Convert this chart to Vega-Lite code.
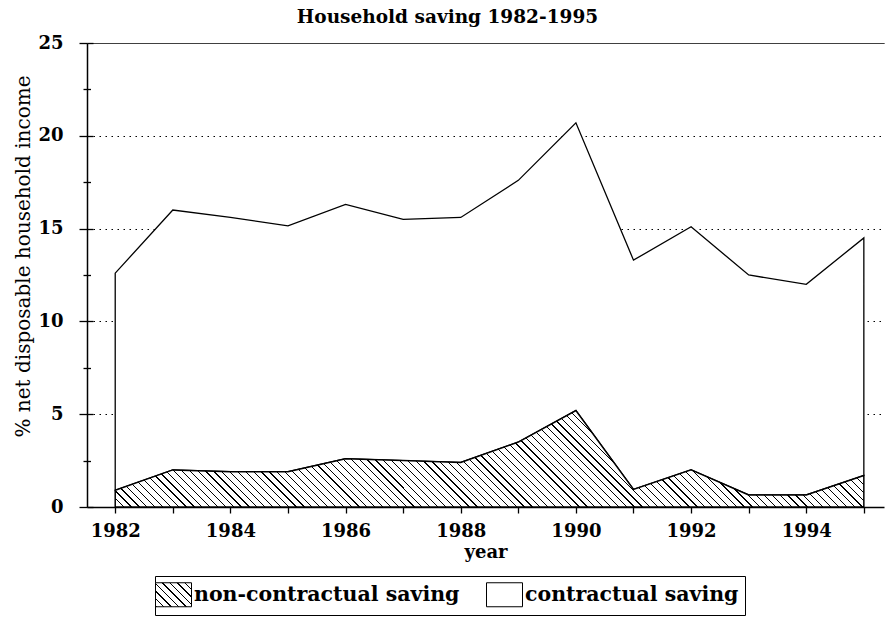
{
  "$schema": "https://vega.github.io/schema/vega-lite/v6.json",
  "width": 797,
  "height": 464,
  "autosize": "none",
  "padding": {"left": 87, "top": 43, "right": 1, "bottom": 115},
  "title": {"text": "Household saving 1982-1995", "font": "DejaVu Serif", "fontSize": 18.5, "fontWeight": "bold", "color": "black", "anchor": "middle", "frame": "group", "dx": -38, "offset": 8},
  "config": {
    "view": {"stroke": null},
    "font": "DejaVu Serif",
    "axis": {"labelFont": "DejaVu Serif", "titleFont": "DejaVu Serif", "labelColor": "black", "titleColor": "black", "domainColor": "black", "tickColor": "black", "domainWidth": 1.5, "tickWidth": 1.3}
  },
  "resolve": {"scale": {"y": "shared"}, "axis": {"y": "independent"}},
  "data": {"values": [
    {"year": 1982, "non_contractual": 0.9, "total": 12.6},
    {"year": 1983, "non_contractual": 2.0, "total": 16.0},
    {"year": 1984, "non_contractual": 1.9, "total": 15.6},
    {"year": 1985, "non_contractual": 1.9, "total": 15.15},
    {"year": 1986, "non_contractual": 2.6, "total": 16.3},
    {"year": 1987, "non_contractual": 2.5, "total": 15.5},
    {"year": 1988, "non_contractual": 2.4, "total": 15.6},
    {"year": 1989, "non_contractual": 3.5, "total": 17.6},
    {"year": 1990, "non_contractual": 5.2, "total": 20.7},
    {"year": 1991, "non_contractual": 0.95, "total": 13.3},
    {"year": 1992, "non_contractual": 2.0, "total": 15.1},
    {"year": 1993, "non_contractual": 0.65, "total": 12.5},
    {"year": 1994, "non_contractual": 0.65, "total": 12.0},
    {"year": 1995, "non_contractual": 1.7, "total": 14.5}
  ]},
  "encoding": {
    "x": {"field": "year", "type": "quantitative",
      "scale": {"domain": [1981.51, 1995.35], "nice": false, "zero": false},
      "axis": {"title": "year", "values": [1982,1983,1984,1985,1986,1987,1988,1989,1990,1991,1992,1993,1994,1995], "format": "d",
        "labelExpr": "datum.value % 2 == 0 ? datum.label : ''", "tickSize": 6, "labelPadding": 9,
        "labelFontSize": 18, "labelFontWeight": "bold", "titleFontSize": 18, "titleFontWeight": "bold",
        "titleY": 50, "titleBaseline": "alphabetic", "grid": false, "labelFlush": false, "labelOverlap": false}
    }
  },
  "layer": [
    {
      "mark": {"type": "area", "strokeWidth": 1.3, "clip": false,
        "fill": {"expr": "datum.value === 'non-contractual saving' ? {gradient: 'linear', x1: 0, y1: 1, x2: 1.1538, y2: 0.2308, stops: [{offset: 0, color: '#000'}, {offset: 0.023, color: '#000'}, {offset: 0.023, color: '#fff'}, {offset: 0.125, color: '#fff'}, {offset: 0.125, color: '#000'}, {offset: 0.148, color: '#000'}, {offset: 0.148, color: '#fff'}, {offset: 0.25, color: '#fff'}, {offset: 0.25, color: '#000'}, {offset: 0.273, color: '#000'}, {offset: 0.273, color: '#fff'}, {offset: 0.375, color: '#fff'}, {offset: 0.375, color: '#000'}, {offset: 0.398, color: '#000'}, {offset: 0.398, color: '#fff'}, {offset: 0.5, color: '#fff'}, {offset: 0.5, color: '#000'}, {offset: 0.523, color: '#000'}, {offset: 0.523, color: '#fff'}, {offset: 0.625, color: '#fff'}, {offset: 0.625, color: '#000'}, {offset: 0.648, color: '#000'}, {offset: 0.648, color: '#fff'}, {offset: 0.75, color: '#fff'}, {offset: 0.75, color: '#000'}, {offset: 0.773, color: '#000'}, {offset: 0.773, color: '#fff'}, {offset: 0.875, color: '#fff'}, {offset: 0.875, color: '#000'}, {offset: 0.898, color: '#000'}, {offset: 0.898, color: '#fff'}, {offset: 1, color: '#fff'}]} : 'white'"}},
      "encoding": {
        "y": {"field": "non_contractual", "type": "quantitative",
          "scale": {"domain": [0, 25], "nice": false, "zero": true},
          "axis": {"title": "% net disposable household income", "orient": "left",
            "values": [0, 2.5, 5, 7.5, 10, 12.5, 15, 17.5, 20, 22.5, 25],
            "labelExpr": "datum.value % 5 == 0 ? datum.label : ''",
            "tickSize": {"condition": {"test": "datum.value % 5 == 0", "value": 8}, "value": 4},
            "labelPadding": 16, "labelFontSize": 18, "labelFontWeight": "bold",
            "grid": true, "gridColor": "black", "gridWidth": 1,
            "gridDash": {"condition": {"test": "datum.value == 25", "value": [1, 0]}, "value": [1.5, 4.5]},
            "gridOpacity": {"condition": {"test": "datum.value % 5 == 0 && datum.value > 0", "value": 1}, "value": 0},
            "titleFontSize": 20, "titleFontWeight": "normal", "titleX": -64, "titleY": 213, "titleBaseline": "middle", "titleAlign": "center", "titleAngle": 270}
        },
        "y2": {"field": "total"},
        "stroke": {"datum": "contractual saving", "type": "nominal",
          "scale": {"domain": ["non-contractual saving", "contractual saving"], "range": ["black", "black"]},
          "legend": {"title": null, "orient": "none", "legendX": 68, "legendY": 533, "direction": "horizontal",
            "symbolType": "M-1.5,-1L1.5,-1L1.5,1L-1.5,1Z", "symbolSize": 576, "symbolStrokeColor": "black", "symbolStrokeWidth": 1,
            "labelFont": "DejaVu Serif", "labelFontWeight": "bold", "labelFontSize": 20.5, "labelColor": "black", "labelOffset": 8, "labelLimit": 400,
            "columnPadding": 24, "padding": 6, "strokeColor": "black",
            "encode": {"symbols": {
              "fill": {"value": {"expr": "datum.value === 'non-contractual saving' ? {gradient: 'linear', x1: 0, y1: 1, x2: 1.1538, y2: 0.2308, stops: [{offset: 0, color: '#000'}, {offset: 0.023, color: '#000'}, {offset: 0.023, color: '#fff'}, {offset: 0.125, color: '#fff'}, {offset: 0.125, color: '#000'}, {offset: 0.148, color: '#000'}, {offset: 0.148, color: '#fff'}, {offset: 0.25, color: '#fff'}, {offset: 0.25, color: '#000'}, {offset: 0.273, color: '#000'}, {offset: 0.273, color: '#fff'}, {offset: 0.375, color: '#fff'}, {offset: 0.375, color: '#000'}, {offset: 0.398, color: '#000'}, {offset: 0.398, color: '#fff'}, {offset: 0.5, color: '#fff'}, {offset: 0.5, color: '#000'}, {offset: 0.523, color: '#000'}, {offset: 0.523, color: '#fff'}, {offset: 0.625, color: '#fff'}, {offset: 0.625, color: '#000'}, {offset: 0.648, color: '#000'}, {offset: 0.648, color: '#fff'}, {offset: 0.75, color: '#fff'}, {offset: 0.75, color: '#000'}, {offset: 0.773, color: '#000'}, {offset: 0.773, color: '#fff'}, {offset: 0.875, color: '#fff'}, {offset: 0.875, color: '#000'}, {offset: 0.898, color: '#000'}, {offset: 0.898, color: '#fff'}, {offset: 1, color: '#fff'}]} : 'white'"}}
            }}
          }
        }
      }
    },
    {
      "mark": {"type": "area", "strokeWidth": 1.5, "clip": false,
        "fill": {"gradient": "linear", "x1": 0, "y1": 1, "x2": 1.0327, "y2": 0.8669, "stops": [
{"offset":0,"color":"#000"},{"offset":0.0016,"color":"#000"},{"offset":0.0016,"color":"#fff"},{"offset":0.01,"color":"#fff"},
{"offset":0.01,"color":"#000"},{"offset":0.0116,"color":"#000"},{"offset":0.0116,"color":"#fff"},{"offset":0.02,"color":"#fff"},
{"offset":0.02,"color":"#000"},{"offset":0.0216,"color":"#000"},{"offset":0.0216,"color":"#fff"},{"offset":0.03,"color":"#fff"},
{"offset":0.03,"color":"#000"},{"offset":0.0316,"color":"#000"},{"offset":0.0316,"color":"#fff"},{"offset":0.04,"color":"#fff"},
{"offset":0.04,"color":"#000"},{"offset":0.0416,"color":"#000"},{"offset":0.0416,"color":"#fff"},{"offset":0.05,"color":"#fff"},
{"offset":0.05,"color":"#000"},{"offset":0.0516,"color":"#000"},{"offset":0.0516,"color":"#fff"},{"offset":0.06,"color":"#fff"},
{"offset":0.06,"color":"#000"},{"offset":0.0616,"color":"#000"},{"offset":0.0616,"color":"#fff"},{"offset":0.07,"color":"#fff"},
{"offset":0.07,"color":"#000"},{"offset":0.0716,"color":"#000"},{"offset":0.0716,"color":"#fff"},{"offset":0.08,"color":"#fff"},
{"offset":0.08,"color":"#000"},{"offset":0.0816,"color":"#000"},{"offset":0.0816,"color":"#fff"},{"offset":0.09,"color":"#fff"},
{"offset":0.09,"color":"#000"},{"offset":0.0916,"color":"#000"},{"offset":0.0916,"color":"#fff"},{"offset":0.1,"color":"#fff"},
{"offset":0.1,"color":"#000"},{"offset":0.1016,"color":"#000"},{"offset":0.1016,"color":"#fff"},{"offset":0.11,"color":"#fff"},
{"offset":0.11,"color":"#000"},{"offset":0.1116,"color":"#000"},{"offset":0.1116,"color":"#fff"},{"offset":0.12,"color":"#fff"},
{"offset":0.12,"color":"#000"},{"offset":0.1216,"color":"#000"},{"offset":0.1216,"color":"#fff"},{"offset":0.13,"color":"#fff"},
{"offset":0.13,"color":"#000"},{"offset":0.1316,"color":"#000"},{"offset":0.1316,"color":"#fff"},{"offset":0.14,"color":"#fff"},
{"offset":0.14,"color":"#000"},{"offset":0.1416,"color":"#000"},{"offset":0.1416,"color":"#fff"},{"offset":0.15,"color":"#fff"},
{"offset":0.15,"color":"#000"},{"offset":0.1516,"color":"#000"},{"offset":0.1516,"color":"#fff"},{"offset":0.16,"color":"#fff"},
{"offset":0.16,"color":"#000"},{"offset":0.1616,"color":"#000"},{"offset":0.1616,"color":"#fff"},{"offset":0.17,"color":"#fff"},
{"offset":0.17,"color":"#000"},{"offset":0.1716,"color":"#000"},{"offset":0.1716,"color":"#fff"},{"offset":0.18,"color":"#fff"},
{"offset":0.18,"color":"#000"},{"offset":0.1816,"color":"#000"},{"offset":0.1816,"color":"#fff"},{"offset":0.19,"color":"#fff"},
{"offset":0.19,"color":"#000"},{"offset":0.1916,"color":"#000"},{"offset":0.1916,"color":"#fff"},{"offset":0.2,"color":"#fff"},
{"offset":0.2,"color":"#000"},{"offset":0.2016,"color":"#000"},{"offset":0.2016,"color":"#fff"},{"offset":0.21,"color":"#fff"},
{"offset":0.21,"color":"#000"},{"offset":0.2116,"color":"#000"},{"offset":0.2116,"color":"#fff"},{"offset":0.22,"color":"#fff"},
{"offset":0.22,"color":"#000"},{"offset":0.2216,"color":"#000"},{"offset":0.2216,"color":"#fff"},{"offset":0.23,"color":"#fff"},
{"offset":0.23,"color":"#000"},{"offset":0.2316,"color":"#000"},{"offset":0.2316,"color":"#fff"},{"offset":0.24,"color":"#fff"},
{"offset":0.24,"color":"#000"},{"offset":0.2416,"color":"#000"},{"offset":0.2416,"color":"#fff"},{"offset":0.25,"color":"#fff"},
{"offset":0.25,"color":"#000"},{"offset":0.2516,"color":"#000"},{"offset":0.2516,"color":"#fff"},{"offset":0.26,"color":"#fff"},
{"offset":0.26,"color":"#000"},{"offset":0.2616,"color":"#000"},{"offset":0.2616,"color":"#fff"},{"offset":0.27,"color":"#fff"},
{"offset":0.27,"color":"#000"},{"offset":0.2716,"color":"#000"},{"offset":0.2716,"color":"#fff"},{"offset":0.28,"color":"#fff"},
{"offset":0.28,"color":"#000"},{"offset":0.2816,"color":"#000"},{"offset":0.2816,"color":"#fff"},{"offset":0.29,"color":"#fff"},
{"offset":0.29,"color":"#000"},{"offset":0.2916,"color":"#000"},{"offset":0.2916,"color":"#fff"},{"offset":0.3,"color":"#fff"},
{"offset":0.3,"color":"#000"},{"offset":0.3016,"color":"#000"},{"offset":0.3016,"color":"#fff"},{"offset":0.31,"color":"#fff"},
{"offset":0.31,"color":"#000"},{"offset":0.3116,"color":"#000"},{"offset":0.3116,"color":"#fff"},{"offset":0.32,"color":"#fff"},
{"offset":0.32,"color":"#000"},{"offset":0.3216,"color":"#000"},{"offset":0.3216,"color":"#fff"},{"offset":0.33,"color":"#fff"},
{"offset":0.33,"color":"#000"},{"offset":0.3316,"color":"#000"},{"offset":0.3316,"color":"#fff"},{"offset":0.34,"color":"#fff"},
{"offset":0.34,"color":"#000"},{"offset":0.3416,"color":"#000"},{"offset":0.3416,"color":"#fff"},{"offset":0.35,"color":"#fff"},
{"offset":0.35,"color":"#000"},{"offset":0.3516,"color":"#000"},{"offset":0.3516,"color":"#fff"},{"offset":0.36,"color":"#fff"},
{"offset":0.36,"color":"#000"},{"offset":0.3616,"color":"#000"},{"offset":0.3616,"color":"#fff"},{"offset":0.37,"color":"#fff"},
{"offset":0.37,"color":"#000"},{"offset":0.3716,"color":"#000"},{"offset":0.3716,"color":"#fff"},{"offset":0.38,"color":"#fff"},
{"offset":0.38,"color":"#000"},{"offset":0.3816,"color":"#000"},{"offset":0.3816,"color":"#fff"},{"offset":0.39,"color":"#fff"},
{"offset":0.39,"color":"#000"},{"offset":0.3916,"color":"#000"},{"offset":0.3916,"color":"#fff"},{"offset":0.4,"color":"#fff"},
{"offset":0.4,"color":"#000"},{"offset":0.4016,"color":"#000"},{"offset":0.4016,"color":"#fff"},{"offset":0.41,"color":"#fff"},
{"offset":0.41,"color":"#000"},{"offset":0.4116,"color":"#000"},{"offset":0.4116,"color":"#fff"},{"offset":0.42,"color":"#fff"},
{"offset":0.42,"color":"#000"},{"offset":0.4216,"color":"#000"},{"offset":0.4216,"color":"#fff"},{"offset":0.43,"color":"#fff"},
{"offset":0.43,"color":"#000"},{"offset":0.4316,"color":"#000"},{"offset":0.4316,"color":"#fff"},{"offset":0.44,"color":"#fff"},
{"offset":0.44,"color":"#000"},{"offset":0.4416,"color":"#000"},{"offset":0.4416,"color":"#fff"},{"offset":0.45,"color":"#fff"},
{"offset":0.45,"color":"#000"},{"offset":0.4516,"color":"#000"},{"offset":0.4516,"color":"#fff"},{"offset":0.46,"color":"#fff"},
{"offset":0.46,"color":"#000"},{"offset":0.4616,"color":"#000"},{"offset":0.4616,"color":"#fff"},{"offset":0.47,"color":"#fff"},
{"offset":0.47,"color":"#000"},{"offset":0.4716,"color":"#000"},{"offset":0.4716,"color":"#fff"},{"offset":0.48,"color":"#fff"},
{"offset":0.48,"color":"#000"},{"offset":0.4816,"color":"#000"},{"offset":0.4816,"color":"#fff"},{"offset":0.49,"color":"#fff"},
{"offset":0.49,"color":"#000"},{"offset":0.4916,"color":"#000"},{"offset":0.4916,"color":"#fff"},{"offset":0.5,"color":"#fff"},
{"offset":0.5,"color":"#000"},{"offset":0.5016,"color":"#000"},{"offset":0.5016,"color":"#fff"},{"offset":0.51,"color":"#fff"},
{"offset":0.51,"color":"#000"},{"offset":0.5116,"color":"#000"},{"offset":0.5116,"color":"#fff"},{"offset":0.52,"color":"#fff"},
{"offset":0.52,"color":"#000"},{"offset":0.5216,"color":"#000"},{"offset":0.5216,"color":"#fff"},{"offset":0.53,"color":"#fff"},
{"offset":0.53,"color":"#000"},{"offset":0.5316,"color":"#000"},{"offset":0.5316,"color":"#fff"},{"offset":0.54,"color":"#fff"},
{"offset":0.54,"color":"#000"},{"offset":0.5416,"color":"#000"},{"offset":0.5416,"color":"#fff"},{"offset":0.55,"color":"#fff"},
{"offset":0.55,"color":"#000"},{"offset":0.5516,"color":"#000"},{"offset":0.5516,"color":"#fff"},{"offset":0.56,"color":"#fff"},
{"offset":0.56,"color":"#000"},{"offset":0.5616,"color":"#000"},{"offset":0.5616,"color":"#fff"},{"offset":0.57,"color":"#fff"},
{"offset":0.57,"color":"#000"},{"offset":0.5716,"color":"#000"},{"offset":0.5716,"color":"#fff"},{"offset":0.58,"color":"#fff"},
{"offset":0.58,"color":"#000"},{"offset":0.5816,"color":"#000"},{"offset":0.5816,"color":"#fff"},{"offset":0.59,"color":"#fff"},
{"offset":0.59,"color":"#000"},{"offset":0.5916,"color":"#000"},{"offset":0.5916,"color":"#fff"},{"offset":0.6,"color":"#fff"},
{"offset":0.6,"color":"#000"},{"offset":0.6016,"color":"#000"},{"offset":0.6016,"color":"#fff"},{"offset":0.61,"color":"#fff"},
{"offset":0.61,"color":"#000"},{"offset":0.6116,"color":"#000"},{"offset":0.6116,"color":"#fff"},{"offset":0.62,"color":"#fff"},
{"offset":0.62,"color":"#000"},{"offset":0.6216,"color":"#000"},{"offset":0.6216,"color":"#fff"},{"offset":0.63,"color":"#fff"},
{"offset":0.63,"color":"#000"},{"offset":0.6316,"color":"#000"},{"offset":0.6316,"color":"#fff"},{"offset":0.64,"color":"#fff"},
{"offset":0.64,"color":"#000"},{"offset":0.6416,"color":"#000"},{"offset":0.6416,"color":"#fff"},{"offset":0.65,"color":"#fff"},
{"offset":0.65,"color":"#000"},{"offset":0.6516,"color":"#000"},{"offset":0.6516,"color":"#fff"},{"offset":0.66,"color":"#fff"},
{"offset":0.66,"color":"#000"},{"offset":0.6616,"color":"#000"},{"offset":0.6616,"color":"#fff"},{"offset":0.67,"color":"#fff"},
{"offset":0.67,"color":"#000"},{"offset":0.6716,"color":"#000"},{"offset":0.6716,"color":"#fff"},{"offset":0.68,"color":"#fff"},
{"offset":0.68,"color":"#000"},{"offset":0.6816,"color":"#000"},{"offset":0.6816,"color":"#fff"},{"offset":0.69,"color":"#fff"},
{"offset":0.69,"color":"#000"},{"offset":0.6916,"color":"#000"},{"offset":0.6916,"color":"#fff"},{"offset":0.7,"color":"#fff"},
{"offset":0.7,"color":"#000"},{"offset":0.7016,"color":"#000"},{"offset":0.7016,"color":"#fff"},{"offset":0.71,"color":"#fff"},
{"offset":0.71,"color":"#000"},{"offset":0.7116,"color":"#000"},{"offset":0.7116,"color":"#fff"},{"offset":0.72,"color":"#fff"},
{"offset":0.72,"color":"#000"},{"offset":0.7216,"color":"#000"},{"offset":0.7216,"color":"#fff"},{"offset":0.73,"color":"#fff"},
{"offset":0.73,"color":"#000"},{"offset":0.7316,"color":"#000"},{"offset":0.7316,"color":"#fff"},{"offset":0.74,"color":"#fff"},
{"offset":0.74,"color":"#000"},{"offset":0.7416,"color":"#000"},{"offset":0.7416,"color":"#fff"},{"offset":0.75,"color":"#fff"},
{"offset":0.75,"color":"#000"},{"offset":0.7516,"color":"#000"},{"offset":0.7516,"color":"#fff"},{"offset":0.76,"color":"#fff"},
{"offset":0.76,"color":"#000"},{"offset":0.7616,"color":"#000"},{"offset":0.7616,"color":"#fff"},{"offset":0.77,"color":"#fff"},
{"offset":0.77,"color":"#000"},{"offset":0.7716,"color":"#000"},{"offset":0.7716,"color":"#fff"},{"offset":0.78,"color":"#fff"},
{"offset":0.78,"color":"#000"},{"offset":0.7816,"color":"#000"},{"offset":0.7816,"color":"#fff"},{"offset":0.79,"color":"#fff"},
{"offset":0.79,"color":"#000"},{"offset":0.7916,"color":"#000"},{"offset":0.7916,"color":"#fff"},{"offset":0.8,"color":"#fff"},
{"offset":0.8,"color":"#000"},{"offset":0.8016,"color":"#000"},{"offset":0.8016,"color":"#fff"},{"offset":0.81,"color":"#fff"},
{"offset":0.81,"color":"#000"},{"offset":0.8116,"color":"#000"},{"offset":0.8116,"color":"#fff"},{"offset":0.82,"color":"#fff"},
{"offset":0.82,"color":"#000"},{"offset":0.8216,"color":"#000"},{"offset":0.8216,"color":"#fff"},{"offset":0.83,"color":"#fff"},
{"offset":0.83,"color":"#000"},{"offset":0.8316,"color":"#000"},{"offset":0.8316,"color":"#fff"},{"offset":0.84,"color":"#fff"},
{"offset":0.84,"color":"#000"},{"offset":0.8416,"color":"#000"},{"offset":0.8416,"color":"#fff"},{"offset":0.85,"color":"#fff"},
{"offset":0.85,"color":"#000"},{"offset":0.8516,"color":"#000"},{"offset":0.8516,"color":"#fff"},{"offset":0.86,"color":"#fff"},
{"offset":0.86,"color":"#000"},{"offset":0.8616,"color":"#000"},{"offset":0.8616,"color":"#fff"},{"offset":0.87,"color":"#fff"},
{"offset":0.87,"color":"#000"},{"offset":0.8716,"color":"#000"},{"offset":0.8716,"color":"#fff"},{"offset":0.88,"color":"#fff"},
{"offset":0.88,"color":"#000"},{"offset":0.8816,"color":"#000"},{"offset":0.8816,"color":"#fff"},{"offset":0.89,"color":"#fff"},
{"offset":0.89,"color":"#000"},{"offset":0.8916,"color":"#000"},{"offset":0.8916,"color":"#fff"},{"offset":0.9,"color":"#fff"},
{"offset":0.9,"color":"#000"},{"offset":0.9016,"color":"#000"},{"offset":0.9016,"color":"#fff"},{"offset":0.91,"color":"#fff"},
{"offset":0.91,"color":"#000"},{"offset":0.9116,"color":"#000"},{"offset":0.9116,"color":"#fff"},{"offset":0.92,"color":"#fff"},
{"offset":0.92,"color":"#000"},{"offset":0.9216,"color":"#000"},{"offset":0.9216,"color":"#fff"},{"offset":0.93,"color":"#fff"},
{"offset":0.93,"color":"#000"},{"offset":0.9316,"color":"#000"},{"offset":0.9316,"color":"#fff"},{"offset":0.94,"color":"#fff"},
{"offset":0.94,"color":"#000"},{"offset":0.9416,"color":"#000"},{"offset":0.9416,"color":"#fff"},{"offset":0.95,"color":"#fff"},
{"offset":0.95,"color":"#000"},{"offset":0.9516,"color":"#000"},{"offset":0.9516,"color":"#fff"},{"offset":0.96,"color":"#fff"},
{"offset":0.96,"color":"#000"},{"offset":0.9616,"color":"#000"},{"offset":0.9616,"color":"#fff"},{"offset":0.97,"color":"#fff"},
{"offset":0.97,"color":"#000"},{"offset":0.9716,"color":"#000"},{"offset":0.9716,"color":"#fff"},{"offset":0.98,"color":"#fff"},
{"offset":0.98,"color":"#000"},{"offset":0.9816,"color":"#000"},{"offset":0.9816,"color":"#fff"},{"offset":0.99,"color":"#fff"},
{"offset":0.99,"color":"#000"},{"offset":0.9916,"color":"#000"},{"offset":0.9916,"color":"#fff"},{"offset":1,"color":"#fff"}
        ]}},
      "encoding": {
        "y": {"field": "non_contractual", "type": "quantitative",
          "axis": {"orient": "left", "title": null, "labels": false, "domain": false, "grid": false,
            "values": [0, 2.5, 5, 7.5, 10, 12.5, 15, 17.5, 20, 22.5, 25],
            "tickSize": {"condition": {"test": "datum.value % 5 == 0", "value": -6}, "value": -3.5}}
        },
        "stroke": {"datum": "non-contractual saving", "type": "nominal"}
      }
    }
  ]
}
